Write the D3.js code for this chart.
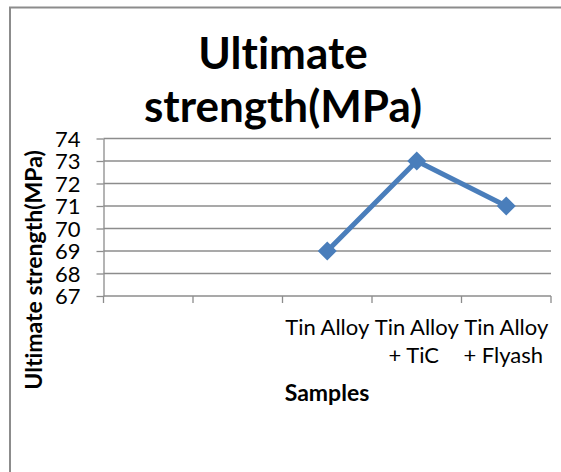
<!DOCTYPE html>
<html lang="en">
<head>
<meta charset="UTF-8">
<title>Ultimate strength(MPa)</title>
<script src="https://d3js.org/d3.v7.min.js"></script>
<style>
    body { margin: 0; padding: 0; background: #fff; }
    svg { display: block; font-family: Lato, "Open Sans", sans-serif; font-variant-ligatures: none; }
</style>
</head>
<body>
<svg id="chart" width="561" height="472"></svg>
<script>
    // categories: the first two slots are empty in the original
    const categories = ["", " ", "Tin Alloy", "Tin Alloy\n+ TiC", "Tin Alloy\n+ Flyash"];
    const samples = ["Tin Alloy", "Tin Alloy\n+ TiC", "Tin Alloy\n+ Flyash"];
    const strength = [69, 73, 71];
    const yTicks = [67, 68, 69, 70, 71, 72, 73, 74];

    const svg = d3.select("#chart");
    const plot = { left: 103.5, right: 551, top: 138.5, bottom: 296 };

    // cropped chart frame: only top and left edges show
    svg.append("path")
        .attr("d", "M10,472 L10,7.5 L561,7.5")
        .attr("fill", "none")
        .attr("stroke", "#8c8c8c")
        .attr("stroke-width", 2);

    const x = d3.scaleBand().domain(categories).range([plot.left, plot.right]);
    const y = d3.scaleLinear().domain([67, 74]).range([plot.bottom, plot.top]);

    // gridlines
    svg.append("g")
        .selectAll("line")
        .data(yTicks.slice(1))
        .join("line")
        .attr("x1", plot.left).attr("x2", plot.right)
        .attr("y1", d => y(d)).attr("y2", d => y(d))
        .attr("stroke", "#8c8c8c").attr("stroke-width", 1.3);

    // y axis
    const yAxis = svg.append("g")
        .attr("transform", `translate(${plot.left},0)`)
        .call(d3.axisLeft(y).tickValues(yTicks).tickFormat(d3.format("d"))
            .tickSize(7).tickPadding(16).tickSizeOuter(0));
    yAxis.select(".domain").attr("stroke", "#8c8c8c").attr("stroke-width", 1.3);
    yAxis.selectAll(".tick line").attr("stroke", "#8c8c8c").attr("stroke-width", 1.3);
    yAxis.selectAll(".tick text")
        .attr("font-size", 22).attr("fill", "#000")
        .attr("font-family", "Lato, sans-serif")
        .attr("dy", "0.36em");

    // x axis: ticks at category boundaries
    const boundaries = categories.map(c => x(c)).concat([plot.right]);
    svg.append("line")
        .attr("x1", plot.left).attr("x2", plot.right)
        .attr("y1", plot.bottom).attr("y2", plot.bottom)
        .attr("stroke", "#8c8c8c").attr("stroke-width", 1.3);
    svg.append("g")
        .selectAll("line")
        .data(boundaries)
        .join("line")
        .attr("x1", d => d).attr("x2", d => d)
        .attr("y1", plot.bottom).attr("y2", plot.bottom + 7)
        .attr("stroke", "#8c8c8c").attr("stroke-width", 1.3);

    // category labels
    const catText = svg.append("g")
        .selectAll("text")
        .data(categories.filter(c => c.trim() !== ""))
        .join("text")
        .attr("text-anchor", "middle")
        .attr("font-size", 22)
        .attr("fill", "#000");
    catText.each(function (d) {
        const lines = d.split("\n");
        const t = d3.select(this);
        lines.forEach((ln, i) => {
            t.append("tspan")
                .attr("x", x(d) + x.bandwidth() / 2 + (i > 0 ? -3 : 0))
                .attr("y", 335 + i * 28)
                .text(ln);
        });
    });

    // line + markers
    const pts = samples.map((s, i) => [x(s) + x.bandwidth() / 2, y(strength[i])]);
    svg.append("path")
        .datum(pts)
        .attr("d", d3.line())
        .attr("fill", "none")
        .attr("stroke", "#4a7ebb")
        .attr("stroke-width", 5)
        .attr("stroke-linejoin", "round");
    svg.append("g")
        .selectAll("path")
        .data(pts)
        .join("path")
        .attr("transform", d => `translate(${d[0]},${d[1]})`)
        .attr("d", "M0,-9.5 L9.5,0 L0,9.5 L-9.5,0 Z")
        .attr("fill", "#4a7ebb");

    // titles
    const title = svg.append("text")
        .attr("text-anchor", "middle")
        .attr("font-weight", "bold")
        .attr("font-size", 44)
        .attr("fill", "#000");
    title.append("tspan").attr("x", 283).attr("y", 69).text("Ultimate");
    title.append("tspan").attr("x", 283).attr("y", 122).text("strength(MPa)");

    svg.append("text")
        .attr("transform", "translate(42,270) rotate(-90)")
        .attr("text-anchor", "middle")
        .attr("font-weight", "bold")
        .attr("font-size", 23)
        .attr("fill", "#000")
        .text("Ultimate strength(MPa)");

    svg.append("text")
        .attr("x", 327).attr("y", 401)
        .attr("text-anchor", "middle")
        .attr("font-weight", "bold")
        .attr("font-size", 23)
        .attr("fill", "#000")
        .text("Samples");
</script>
</body>
</html>
